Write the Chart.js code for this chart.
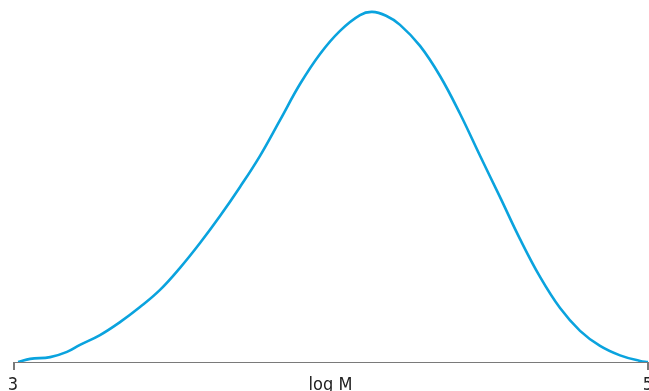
<!DOCTYPE html>
<html>
<head>
<meta charset="utf-8">
<script src="https://cdn.jsdelivr.net/npm/chart.js@4"></script>
<style>
  html, body { margin: 0; padding: 0; background: #fff; }
  #wrap { width: 649px; height: 391px; }
</style>
</head>
<body>
<div id="wrap"><canvas id="distChart" width="649" height="391"></canvas></div>
<script>
// molecular weight distribution curve
const logM = [3.016, 3.054, 3.117, 3.170, 3.211, 3.274, 3.337, 3.400, 3.463, 3.526,
  3.589, 3.652, 3.715, 3.778, 3.841, 3.904, 3.967, 4.030, 4.093, 4.131,
  4.175, 4.219, 4.282, 4.345, 4.408, 4.471, 4.534, 4.597, 4.660, 4.723,
  4.786, 4.849, 4.912, 4.975, 5.000];
const weight = [0.000, 0.009, 0.014, 0.029, 0.049, 0.077, 0.114, 0.157, 0.206, 0.269,
  0.340, 0.417, 0.500, 0.589, 0.691, 0.794, 0.880, 0.946, 0.991, 1.000,
  0.989, 0.963, 0.903, 0.817, 0.709, 0.589, 0.471, 0.351, 0.243, 0.154,
  0.089, 0.046, 0.019, 0.003, 0.000];

const tickValues = [3, 4, 5];
const tickLabels = { 3: "3", 4: "log M", 5: "5" };
const tickMarkValues = [3, 5];

const lineColor = "#0aa3de";
const axisColor = "#7a7a7a";

const points = logM.map((x, i) => ({ x: x, y: weight[i] }));

// axis line plus small tick marks at the two ends
const axisPlugin = {
  id: "axisMarks",
  afterDatasetsDraw(chart) {
    const xScale = chart.scales.x;
    const ctx = chart.ctx;
    const y0 = Math.round(xScale.top);
    ctx.save();
    ctx.fillStyle = axisColor;
    ctx.fillRect(Math.round(xScale.left), y0, Math.round(xScale.right - xScale.left), 1);
    tickMarkValues.forEach(v => {
      let px = Math.round(xScale.getPixelForValue(v));
      if (px > chart.width - 2) px = chart.width - 2;
      ctx.fillRect(px, y0, 2, 8);
    });
    ctx.restore();
  }
};

new Chart(document.getElementById("distChart").getContext("2d"), {
  type: "line",
  data: {
    datasets: [
      {
        data: points,
        borderColor: lineColor,
        borderWidth: 2.6,
        pointRadius: 0,
        fill: false,
        tension: 0.4
      }
    ]
  },
  options: {
    responsive: false,
    animation: false,
    layout: { padding: { left: 13, right: 1, top: 0, bottom: 0 } },
    plugins: {
      legend: { display: false },
      tooltip: { enabled: false }
    },
    scales: {
      x: {
        type: "linear",
        min: 3,
        max: 5,
        afterBuildTicks: scale => {
          scale.ticks = tickValues.map(v => ({ value: v }));
        },
        afterFit: scale => {
          scale.paddingLeft = 0;
          scale.paddingRight = 0;
          scale.height = 29;
        },
        ticks: {
          autoSkip: false,
          maxRotation: 0,
          padding: 6,
          color: "#222",
          font: { family: "'Liberation Sans Narrow', 'DejaVu Sans Condensed', sans-serif", size: 18 },
          callback: value => tickLabels[value] || ""
        },
        grid: {
          drawOnChartArea: false,
          tickLength: 7,
          color: "rgba(0,0,0,0)"
        },
        border: { display: false }
      },
      y: {
        display: false,
        min: 0,
        max: 1.034
      }
    }
  },
  plugins: [axisPlugin]
});
</script>
</body>
</html>
